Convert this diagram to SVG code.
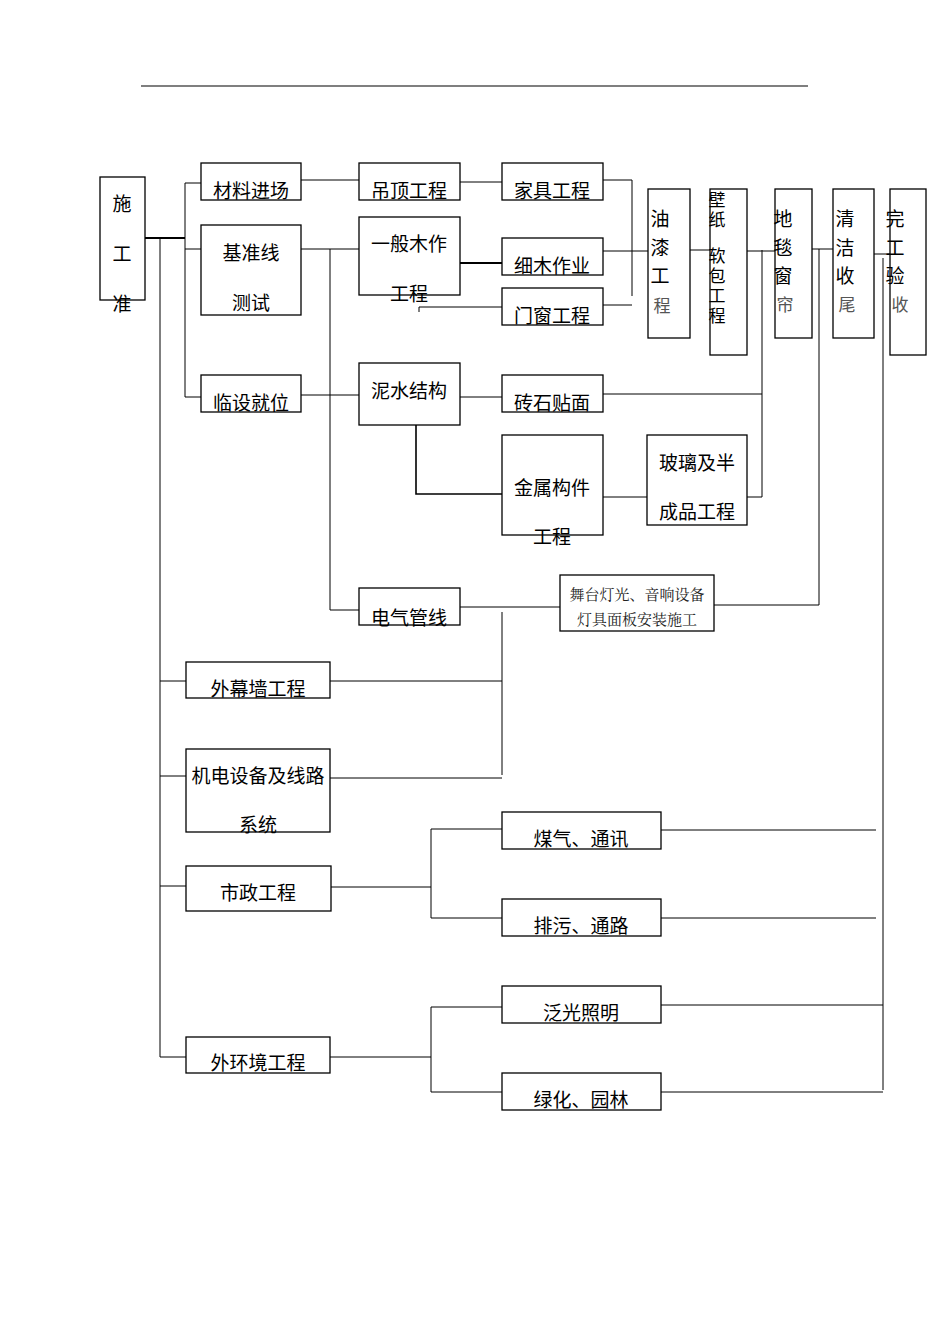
<svg xmlns="http://www.w3.org/2000/svg" width="950" height="1344" viewBox="0 0 950 1344">
<style>
.b{fill:#fff;stroke:#000;stroke-width:1.3}
.t{font-family:"Noto Sans CJK SC","Noto Sans CJK JP",sans-serif;font-size:19px;fill:#000;text-anchor:middle}
.v{font-family:"Noto Sans CJK SC","Noto Sans CJK JP",sans-serif;font-size:17px;fill:#000;text-anchor:middle}
.s{font-family:"Noto Serif CJK SC","Noto Sans CJK SC",serif;font-size:15px;fill:#222;text-anchor:middle}
.g{font-family:"Noto Sans CJK SC",sans-serif;font-size:17px;fill:#555;text-anchor:middle}
.c line,.c polyline{stroke:#000;stroke-width:1;fill:none}
</style>
<rect width="950" height="1344" fill="#fff"/>
<line x1="141" y1="86" x2="808" y2="86" stroke="#000" stroke-width="1.2"/>
<g class="c">
<line x1="145" y1="238" x2="185" y2="238" style="stroke-width:2"/>
<line x1="185" y1="183" x2="185" y2="397"/>
<line x1="185" y1="183" x2="201" y2="183"/><line x1="185" y1="249" x2="201" y2="249"/><line x1="185" y1="397" x2="201" y2="397"/>
<line x1="160" y1="238" x2="160" y2="1057"/>
<line x1="160" y1="681" x2="186" y2="681"/><line x1="160" y1="776" x2="186" y2="776"/><line x1="160" y1="886" x2="186" y2="886"/><line x1="160" y1="1057" x2="186" y2="1057"/>
<line x1="301" y1="180" x2="359" y2="180"/>
<line x1="460" y1="182" x2="502" y2="182"/>
<line x1="632" y1="180" x2="632" y2="296"/>
<line x1="603" y1="180" x2="632" y2="180"/><line x1="603" y1="251" x2="648" y2="251"/><line x1="603" y1="305" x2="632" y2="305"/>
<line x1="301" y1="249" x2="359" y2="249"/>
<line x1="330" y1="249" x2="330" y2="610"/>
<line x1="301" y1="395" x2="359" y2="395"/>
<line x1="330" y1="610" x2="359" y2="610"/>
<line x1="460" y1="263" x2="502" y2="263" style="stroke-width:2"/>
<polyline points="419,312 419,307 502,307"/>
<line x1="460" y1="397" x2="502" y2="397"/>
<line x1="603" y1="394" x2="762" y2="394"/>
<line x1="762" y1="250" x2="762" y2="497"/>
<line x1="747" y1="497" x2="762" y2="497"/>
<line x1="603" y1="497" x2="647" y2="497"/>
<polyline points="416,425 416,494 502,494" style="stroke-width:1.6"/>
<line x1="690" y1="250" x2="710" y2="250"/>
<line x1="747" y1="251" x2="775" y2="251"/>
<line x1="812" y1="249" x2="833" y2="249"/>
<line x1="819" y1="249" x2="819" y2="605"/>
<line x1="714" y1="605" x2="819" y2="605"/>
<line x1="874" y1="254" x2="890" y2="254"/>
<line x1="883" y1="258" x2="883" y2="1090"/>
<line x1="460" y1="607" x2="560" y2="607"/>
<line x1="502" y1="612" x2="502" y2="775"/>
<line x1="330" y1="681" x2="502" y2="681"/>
<line x1="330" y1="778" x2="502" y2="778"/>
<line x1="331" y1="887" x2="431" y2="887"/>
<line x1="431" y1="829" x2="431" y2="918"/>
<line x1="431" y1="829" x2="502" y2="829"/><line x1="431" y1="918" x2="502" y2="918"/>
<line x1="661" y1="830" x2="876" y2="830"/><line x1="661" y1="918" x2="876" y2="918"/>
<line x1="330" y1="1057" x2="431" y2="1057"/>
<line x1="431" y1="1007" x2="431" y2="1092"/>
<line x1="431" y1="1007" x2="502" y2="1007"/><line x1="431" y1="1092" x2="502" y2="1092"/>
<line x1="661" y1="1005" x2="883" y2="1005"/><line x1="661" y1="1092" x2="883" y2="1092"/>
</g>
<g id="n0"><rect class="b" x="100" y="177" width="45" height="123"/><text class="t" x="122" y="211">施</text><text class="t" x="122" y="261">工</text><text class="t" x="122" y="311">准</text></g>
<g id="n1"><rect class="b" x="201" y="163" width="100" height="37"/><text class="t" x="251" y="198">材料进场</text></g>
<g id="n2"><rect class="b" x="201" y="225" width="100" height="90"/><text class="t" x="251" y="260">基准线</text><text class="t" x="251" y="310">测试</text></g>
<g id="n3"><rect class="b" x="201" y="375" width="100" height="37"/><text class="t" x="251" y="410">临设就位</text></g>
<g id="n4"><rect class="b" x="359" y="163" width="101" height="37"/><text class="t" x="409" y="198">吊顶工程</text></g>
<g id="n5"><rect class="b" x="359" y="217" width="101" height="78"/><text class="t" x="409" y="251">一般木作</text><text class="t" x="409" y="301">工程</text></g>
<g id="n6"><rect class="b" x="359" y="363" width="101" height="62"/><text class="t" x="409" y="398">泥水结构</text></g>
<g id="n7"><rect class="b" x="359" y="588" width="101" height="37"/><text class="t" x="409" y="625">电气管线</text></g>
<g id="n8"><rect class="b" x="502" y="163" width="101" height="37"/><text class="t" x="552" y="198">家具工程</text></g>
<g id="n9"><rect class="b" x="502" y="238" width="101" height="37"/><text class="t" x="552" y="273">细木作业</text></g>
<g id="n10"><rect class="b" x="502" y="288" width="101" height="37"/><text class="t" x="552" y="323">门窗工程</text></g>
<g id="n11"><rect class="b" x="502" y="375" width="101" height="37"/><text class="t" x="552" y="410">砖石贴面</text></g>
<g id="n12"><rect class="b" x="502" y="435" width="101" height="100"/><text class="t" x="552" y="495">金属构件</text><text class="t" x="552" y="544">工程</text></g>
<g id="n13"><rect class="b" x="647" y="435" width="100" height="90"/><text class="t" x="697" y="470">玻璃及半</text><text class="t" x="697" y="519">成品工程</text></g>
<g id="n14"><rect class="b" x="560" y="575" width="154" height="56"/><text class="s" x="637" y="600">舞台灯光、音响设备</text><text class="s" x="637" y="625">灯具面板安装施工</text></g>
<g id="n15"><rect class="b" x="648" y="189" width="42" height="149"/><text class="t" x="660" y="226">油</text><text class="t" x="660" y="255">漆</text><text class="t" x="660" y="283">工</text><text class="g" x="662" y="312">程</text></g>
<g id="n16"><rect class="b" x="710" y="189" width="37" height="166"/><text class="v" x="717" y="206">壁</text><text class="v" x="717" y="226">纸</text><text class="v" x="717" y="262">软</text><text class="v" x="717" y="282">包</text><text class="v" x="717" y="302">工</text><text class="v" x="717" y="322">程</text></g>
<g id="n17"><rect class="b" x="775" y="189" width="37" height="149"/><text class="t" x="783" y="226">地</text><text class="t" x="783" y="255">毯</text><text class="t" x="783" y="283">窗</text><text class="g" x="785" y="311">帘</text></g>
<g id="n18"><rect class="b" x="833" y="189" width="41" height="149"/><text class="t" x="845" y="226">清</text><text class="t" x="845" y="255">洁</text><text class="t" x="845" y="283">收</text><text class="g" x="847" y="311">尾</text></g>
<g id="n19"><rect class="b" x="890" y="189" width="36" height="166"/><text class="t" x="895" y="226">完</text><text class="t" x="895" y="255">工</text><text class="t" x="895" y="283">验</text><text class="g" x="900" y="311">收</text></g>
<g id="n20"><rect class="b" x="186" y="662" width="144" height="36"/><text class="t" x="258" y="696">外幕墙工程</text></g>
<g id="n21"><rect class="b" x="186" y="749" width="144" height="83"/><text class="t" x="258" y="783">机电设备及线路</text><text class="t" x="258" y="832">系统</text></g>
<g id="n22"><rect class="b" x="186" y="866" width="145" height="45"/><text class="t" x="258" y="900">市政工程</text></g>
<g id="n23"><rect class="b" x="186" y="1037" width="144" height="36"/><text class="t" x="258" y="1070">外环境工程</text></g>
<g id="n24"><rect class="b" x="502" y="812" width="159" height="37"/><text class="t" x="581" y="846">煤气、通讯</text></g>
<g id="n25"><rect class="b" x="502" y="899" width="159" height="37"/><text class="t" x="581" y="933">排污、通路</text></g>
<g id="n26"><rect class="b" x="502" y="986" width="159" height="37"/><text class="t" x="581" y="1020">泛光照明</text></g>
<g id="n27"><rect class="b" x="502" y="1073" width="159" height="37"/><text class="t" x="581" y="1107">绿化、园林</text></g>
</svg>
